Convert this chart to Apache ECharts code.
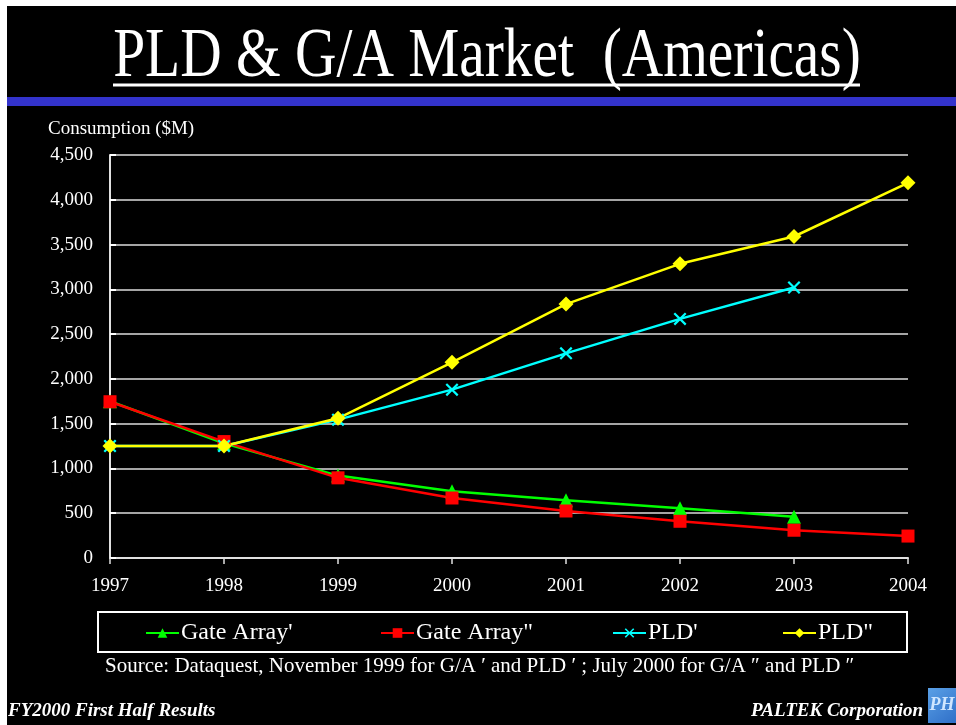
<!DOCTYPE html>
<html>
<head>
<meta charset="utf-8">
<script src="https://cdn.jsdelivr.net/npm/echarts@6/dist/echarts.min.js"></script>
<style>
html,body{margin:0;padding:0;background:#fff;}
#chart{width:956px;height:725px;}
</style>
</head>
<body>
<div id="chart"></div>
<script>
const years = ['1997','1998','1999','2000','2001','2002','2003','2004'];
const yTicks = [0,500,1000,1500,2000,2500,3000,3500,4000,4500];
const gateArrayOld = [1750, 1280, 920, 745, 645, 555, 460, null];
const gateArrayNew = [1745, 1300, 895, 670, 525, 410, 310, 245];
const pldOld = [1250, 1250, 1545, 1880, 2285, 2670, 3020, null];
const pldNew = [1250, 1250, 1560, 2185, 2835, 3285, 3590, 4190];
const seriesNames = ["Gate Array'", 'Gate Array"', "PLD'", 'PLD"'];

const SERIF = '"Liberation Serif","Times New Roman",serif';
const xSym = 'path://M0,1.2L1.2,0L10,8.8L8.8,10Z M8.8,0L10,1.2L1.2,10L0,8.8Z';
const legendLefts = [145, 380, 612, 782];

const chart = echarts.init(document.getElementById('chart'), null, {renderer:'canvas'});
function mk(name, data, color, symbol, size){
  return {
    name, type:'line', data, connectNulls:false,
    symbol, symbolSize:size, showSymbol:true,
    lineStyle:{color, width:2.5},
    itemStyle:{color},
    emphasis:{disabled:true},
    animation:false
  };
}
chart.setOption({
  backgroundColor:'#000',
  animation:false,
  grid:{left:110, right:48, top:155, bottom:167, containLabel:false},
  xAxis:{
    type:'category', data:years, boundaryGap:false,
    axisLine:{lineStyle:{color:'#e0e0e0', width:2}},
    axisTick:{show:true, length:6, lineStyle:{color:'#e0e0e0', width:1.5}},
    axisLabel:{color:'#fff', fontFamily:SERIF, fontSize:19, margin:19},
    splitLine:{show:false}
  },
  yAxis:{
    type:'value', min:yTicks[0], max:yTicks[yTicks.length-1], interval:500,
    name:'Consumption ($M)', nameLocation:'end', nameGap:16,
    nameTextStyle:{color:'#fff', fontFamily:SERIF, fontSize:19, align:'left', padding:[0,0,0,-62]},
    axisLine:{show:true, lineStyle:{color:'#e0e0e0', width:2}},
    axisTick:{show:true, inside:true, length:6, lineStyle:{color:'#fff', width:2}},
    axisLabel:{color:'#fff', fontFamily:SERIF, fontSize:19, margin:17,
      formatter:v=>v.toLocaleString('en-US')},
    splitLine:{show:true, lineStyle:{color:'#dcdcdc', width:1.5}}
  },
  legend: seriesNames.map((n,i)=>({
    data:[n], left:legendLefts[i], top:621, padding:0, itemWidth:33, itemHeight:12,
    textStyle:{color:'#fff', fontFamily:SERIF, fontSize:24, padding:[0,0,0,-3]},
    selectedMode:false
  })),
  series:[
    mk(seriesNames[0], gateArrayOld, '#00ff00', 'triangle', 14),
    mk(seriesNames[1], gateArrayNew, '#ff0000', 'rect', 13),
    mk(seriesNames[2], pldOld, '#00ffff', xSym, 13),
    mk(seriesNames[3], pldNew, '#ffff00', 'diamond', 15)
  ],
  graphic:[
    {type:'rect', shape:{x:0,y:0,width:956,height:6}, style:{fill:'#fff'}, silent:true},
    {type:'rect', shape:{x:0,y:0,width:7,height:725}, style:{fill:'#fff'}, silent:true},
    {type:'rect', shape:{x:7,y:97,width:949,height:9}, style:{fill:'#3333cc'}, silent:true},
    {type:'text', x:487, y:58, scaleX:0.82, originX:0, originY:0,
      style:{text:'PLD & G/A Market  (Americas)', fill:'#fff', font:'70px '+SERIF, textAlign:'center', textVerticalAlign:'middle'}, silent:true},
    {type:'line', shape:{x1:113,y1:85,x2:860,y2:85}, style:{stroke:'#fff', lineWidth:3}, silent:true},
    {type:'rect', shape:{x:98,y:612,width:809,height:40}, style:{fill:'none', stroke:'#fff', lineWidth:2}, silent:true},
    {type:'text', x:105, y:666, style:{text:'Source: Dataquest, November 1999 for G/A \u2032 and PLD \u2032 ; July 2000 for G/A \u2033 and PLD \u2033', fill:'#fff', font:'21px '+SERIF, textAlign:'left', textVerticalAlign:'middle'}, silent:true},
    {type:'text', x:8, y:711, style:{text:'FY2000 First Half Results', fill:'#fff', font:'italic bold 19px '+SERIF, textAlign:'left', textVerticalAlign:'middle'}, silent:true},
    {type:'text', x:923, y:711, style:{text:'PALTEK Corporation', fill:'#fff', font:'italic bold 19px '+SERIF, textAlign:'right', textVerticalAlign:'middle'}, silent:true},
    {type:'rect', shape:{x:928,y:688,width:28,height:35},
      style:{fill:new echarts.graphic.LinearGradient(0,0,1,1,[{offset:0,color:'#5aa0e6'},{offset:1,color:'#2f6fc8'}])}, silent:true},
    {type:'text', x:942, y:705, style:{text:'PH', fill:'#cfe6ff', font:'italic bold 18px '+SERIF, textAlign:'center', textVerticalAlign:'middle'}, silent:true}
  ]
});
</script>
</body>
</html>
